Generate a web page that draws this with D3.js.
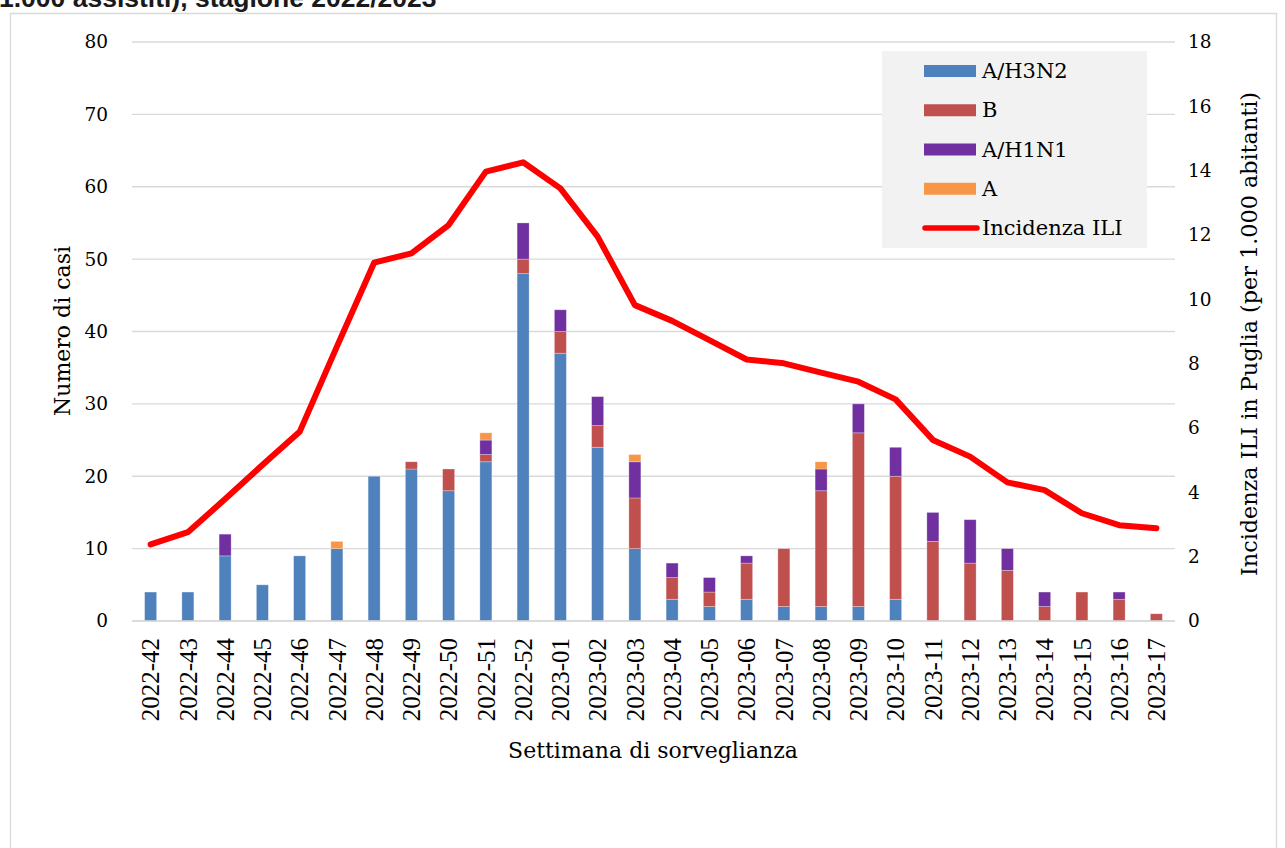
<!DOCTYPE html>
<html>
<head>
<meta charset="utf-8">
<script src="https://cdn.jsdelivr.net/npm/d3@7"></script>
<style>
  html, body { margin: 0; padding: 0; background: #fff; }
  svg { display: block; }
</style>
</head>
<body>
<svg id="chart" width="1285" height="848"></svg>
<script>
// ---- Data ----
const weeks = ["2022-42","2022-43","2022-44","2022-45","2022-46","2022-47","2022-48","2022-49","2022-50","2022-51","2022-52",
  "2023-01","2023-02","2023-03","2023-04","2023-05","2023-06","2023-07","2023-08","2023-09","2023-10",
  "2023-11","2023-12","2023-13","2023-14","2023-15","2023-16","2023-17"];
const h3n2 = [4,4,9,5,9,10,20,21,18,22,48,37,24,10,3,2,3,2,2,2,3,0,0,0,0,0,0,0];
const fluB = [0,0,0,0,0,0,0,1,3,1,2,3,3,7,3,2,5,8,16,24,17,11,8,7,2,4,3,1];
const h1n1 = [0,0,3,0,0,0,0,0,0,2,5,3,4,5,2,2,1,0,3,4,4,4,6,3,2,0,1,0];
const fluA = [0,0,0,0,0,1,0,0,0,1,0,0,0,1,0,0,0,0,1,0,0,0,0,0,0,0,0,0];
const ili = [2.38,2.76,3.79,4.85,5.88,8.53,11.14,11.43,12.31,13.97,14.26,13.45,11.95,9.82,9.33,8.73,8.13,8.01,7.72,7.44,6.89,5.63,5.11,4.31,4.07,3.35,2.98,2.88];
const leftTicks = [0,10,20,30,40,50,60,70,80];
const rightTicks = [0,2,4,6,8,10,12,14,16,18];
const seriesNames = ["A/H3N2","B","A/H1N1","A"];
const seriesColors = ["#4f81bd","#c0504d","#7030a0","#f79646"];
const lineName = "Incidenza ILI";
const titleTail = "1.000 assistiti), stagione 2022/2023";
const yLeftTitle = "Numero di casi";
const yRightTitle = "Incidenza ILI in Puglia (per 1.000 abitanti)";
const xTitle = "Settimana di sorveglianza";

// ---- Layout ----
const svg = d3.select("#chart");
const plot = {left: 132, right: 1175, top: 42, bottom: 621};
const serif = "'DejaVu Serif', serif";

const x = d3.scaleBand().domain(weeks).range([plot.left, plot.right]).padding(0);
const yL = d3.scaleLinear().domain([0, 80]).range([plot.bottom, plot.top]);
const yR = d3.scaleLinear().domain([0, 18]).range([plot.bottom, plot.top]);
const barW = 12;

// chart area border
svg.append("path")
  .attr("d", "M10.5,860 L10.5,13.5 L1276.5,13.5 L1276.5,860")
  .attr("fill", "none").attr("stroke", "#d9d9d9").attr("stroke-width", 1.3);

// clipped title line (only its lower part is visible, as in the source)
svg.append("text")
  .attr("x", -1).attr("y", 7)
  .attr("font-family", "'Liberation Sans', Arial, sans-serif")
  .attr("font-weight", "bold").attr("font-size", 26.5)
  .attr("fill", "#1a1a1a")
  .text(titleTail);

// gridlines
svg.append("g").selectAll("line").data(leftTicks).join("line")
  .attr("x1", plot.left).attr("x2", plot.right)
  .attr("y1", d => yL(d)).attr("y2", d => yL(d))
  .attr("stroke", "#d9d9d9").attr("stroke-width", 1.3);

// left axis
const gL = svg.append("g").attr("transform", `translate(${plot.left},0)`)
  .call(d3.axisLeft(yL).tickValues(leftTicks).tickSize(0).tickPadding(24));
gL.select(".domain").remove();
gL.selectAll("text").attr("font-family", serif).attr("font-size", 18.5).attr("fill", "#000");

// right axis
const gR = svg.append("g").attr("transform", `translate(${plot.right},0)`)
  .call(d3.axisRight(yR).tickValues(rightTicks).tickSize(0).tickPadding(13));
gR.select(".domain").remove();
gR.selectAll("text").attr("font-family", serif).attr("font-size", 18.5).attr("fill", "#000");

// stacked bars
const rows = weeks.map((w, i) => ({week: w, "A/H3N2": h3n2[i], "B": fluB[i], "A/H1N1": h1n1[i], "A": fluA[i]}));
const stack = d3.stack().keys(seriesNames)(rows);
const color = d3.scaleOrdinal().domain(seriesNames).range(seriesColors);
svg.append("g").selectAll("g").data(stack).join("g")
  .attr("fill", d => color(d.key))
  .selectAll("rect").data(d => d.filter(s => s[1] - s[0] > 0)).join("rect")
  .attr("x", d => x(d.data.week) + x.bandwidth() / 2 - barW / 2)
  .attr("width", barW)
  .attr("y", d => yL(d[1]))
  .attr("height", d => yL(d[0]) - yL(d[1]))
  .attr("stroke", "rgba(255,255,255,0.35)").attr("stroke-width", 0.8);

// x axis labels
const gX = svg.append("g").attr("transform", `translate(0,${plot.bottom})`)
  .call(d3.axisBottom(x).tickSize(0).tickPadding(0));
gX.select(".domain").remove();
gX.selectAll("text")
  .attr("font-family", "'Liberation Serif', 'Times New Roman', serif")
  .attr("font-size", 25).attr("fill", "#000")
  .attr("transform", "rotate(-90)")
  .attr("text-anchor", "end")
  .attr("x", -17).attr("y", 0).attr("dy", "0.35em");

// baseline
svg.append("line").attr("x1", plot.left).attr("x2", plot.right)
  .attr("y1", plot.bottom).attr("y2", plot.bottom)
  .attr("stroke", "#d9d9d9").attr("stroke-width", 1.5);

// ILI line
svg.append("path").datum(ili)
  .attr("fill", "none").attr("stroke", "#ff0000").attr("stroke-width", 6)
  .attr("stroke-linejoin", "round").attr("stroke-linecap", "round")
  .attr("d", d3.line().x((d, i) => x(weeks[i]) + x.bandwidth() / 2).y(d => yR(d)));

// axis titles
svg.append("text").attr("transform", "translate(62,331) rotate(-90)")
  .attr("text-anchor", "middle").attr("dominant-baseline", "central")
  .attr("font-family", serif).attr("font-size", 22).text(yLeftTitle);
svg.append("text").attr("transform", "translate(1249,334) rotate(-90)")
  .attr("text-anchor", "middle").attr("dominant-baseline", "central")
  .attr("font-family", serif).attr("font-size", 22.3).text(yRightTitle);
svg.append("text").attr("x", 653).attr("y", 750)
  .attr("text-anchor", "middle").attr("dominant-baseline", "central")
  .attr("font-family", serif).attr("font-size", 22).text(xTitle);

// legend
const lg = svg.append("g");
lg.append("rect").attr("x", 882).attr("y", 51).attr("width", 265).attr("height", 197).attr("fill", "#f2f2f2");
const items = seriesNames.map((n, i) => ({name: n, color: seriesColors[i], type: "bar"}))
  .concat([{name: lineName, color: "#ff0000", type: "line"}]);
const ly = d3.scalePoint().domain(items.map(d => d.name)).range([71, 228]);
items.forEach(it => {
  const cy = ly(it.name);
  if (it.type === "bar") {
    lg.append("rect").attr("x", 924).attr("y", cy - 6).attr("width", 52).attr("height", 12).attr("fill", it.color);
  } else {
    lg.append("line").attr("x1", 925).attr("x2", 977).attr("y1", cy).attr("y2", cy)
      .attr("stroke", it.color).attr("stroke-width", 5.5).attr("stroke-linecap", "round");
  }
  lg.append("text").attr("x", 982).attr("y", cy).attr("dominant-baseline", "central")
    .attr("font-family", serif).attr("font-size", 21).attr("fill", "#000").text(it.name);
});
</script>
</body>
</html>
